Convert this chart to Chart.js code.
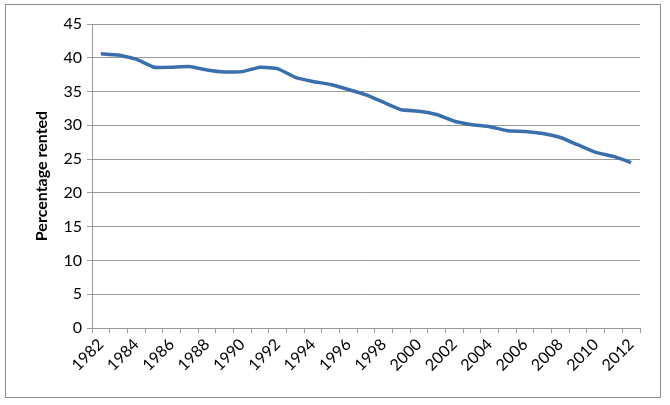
<!DOCTYPE html>
<html>
<head>
<meta charset="utf-8">
<script src="https://cdn.jsdelivr.net/npm/chart.js@4"></script>
<style>
  body { margin: 0; background: #fff; }
  #wrap { position: relative; width: 670px; height: 405px; }
  #frame { position: absolute; left: 5px; top: 4px; width: 654px; height: 392px; border: 1px solid #8c8c8c; pointer-events: none; }
</style>
</head>
<body>
<div id="wrap">
  <canvas id="chart" width="670" height="405"></canvas>
  <div id="frame"></div>
</div>
<script>
// years on the category axis
const years = [];
for (let y = 1982; y <= 2012; y++) years.push(String(y));

// percentage rented
const rented = [40.6, 40.4, 39.8, 38.6, 38.6, 38.7, 38.2, 37.9, 37.95, 38.6,
  38.4, 37.1, 36.5, 36.05, 35.3, 34.5, 33.4, 32.3, 32.1, 31.6,
  30.6, 30.1, 29.8, 29.2, 29.1, 28.8, 28.2, 27.1, 26.0, 25.4, 24.5];

const yTicks = { min: 0, max: 45, step: 5 };

const gridColor = '#9a9a9a';
const font = { family: 'Lato, "Open Sans", sans-serif', size: 16 };

new Chart(document.getElementById('chart'), {
  type: 'line',
  data: {
    labels: years,
    datasets: [{
      label: 'Percentage rented',
      data: rented,
      borderColor: '#3a6fae',
      borderWidth: 3.5,
      tension: 0.1,
      pointRadius: 0,
      fill: false,
    }],
  },
  options: {
    responsive: false,
    animation: false,
    layout: { padding: { left: 32, right: 30, top: 24, bottom: 0 } },
    plugins: { legend: { display: false }, tooltip: { enabled: false } },
    scales: {
      x: {
        offset: true,
        grid: { offset: true, drawOnChartArea: false, drawTicks: true, tickLength: 5, color: gridColor },
        border: { color: gridColor },
        ticks: {
          autoSkip: false,
          minRotation: 45,
          maxRotation: 45,
          color: '#000',
          font: font,
          padding: 2,
          callback: function (v, i) { return i % 2 === 0 ? years[i] : ''; },
        },
        afterFit: function (axis) { axis.height = 77; },
      },
      y: {
        min: yTicks.min,
        max: yTicks.max,
        grid: { color: gridColor, tickLength: 5 },
        border: { color: gridColor },
        ticks: { stepSize: yTicks.step, color: '#000', font: font, padding: 5 },
        title: {
          display: true,
          text: 'Percentage rented',
          color: '#000',
          font: { family: font.family, size: 16, weight: 'bold' },
          padding: 0,
        },
        afterFit: function (axis) { axis.width = 60; },
      },
    },
  },
});
</script>
</body>
</html>
